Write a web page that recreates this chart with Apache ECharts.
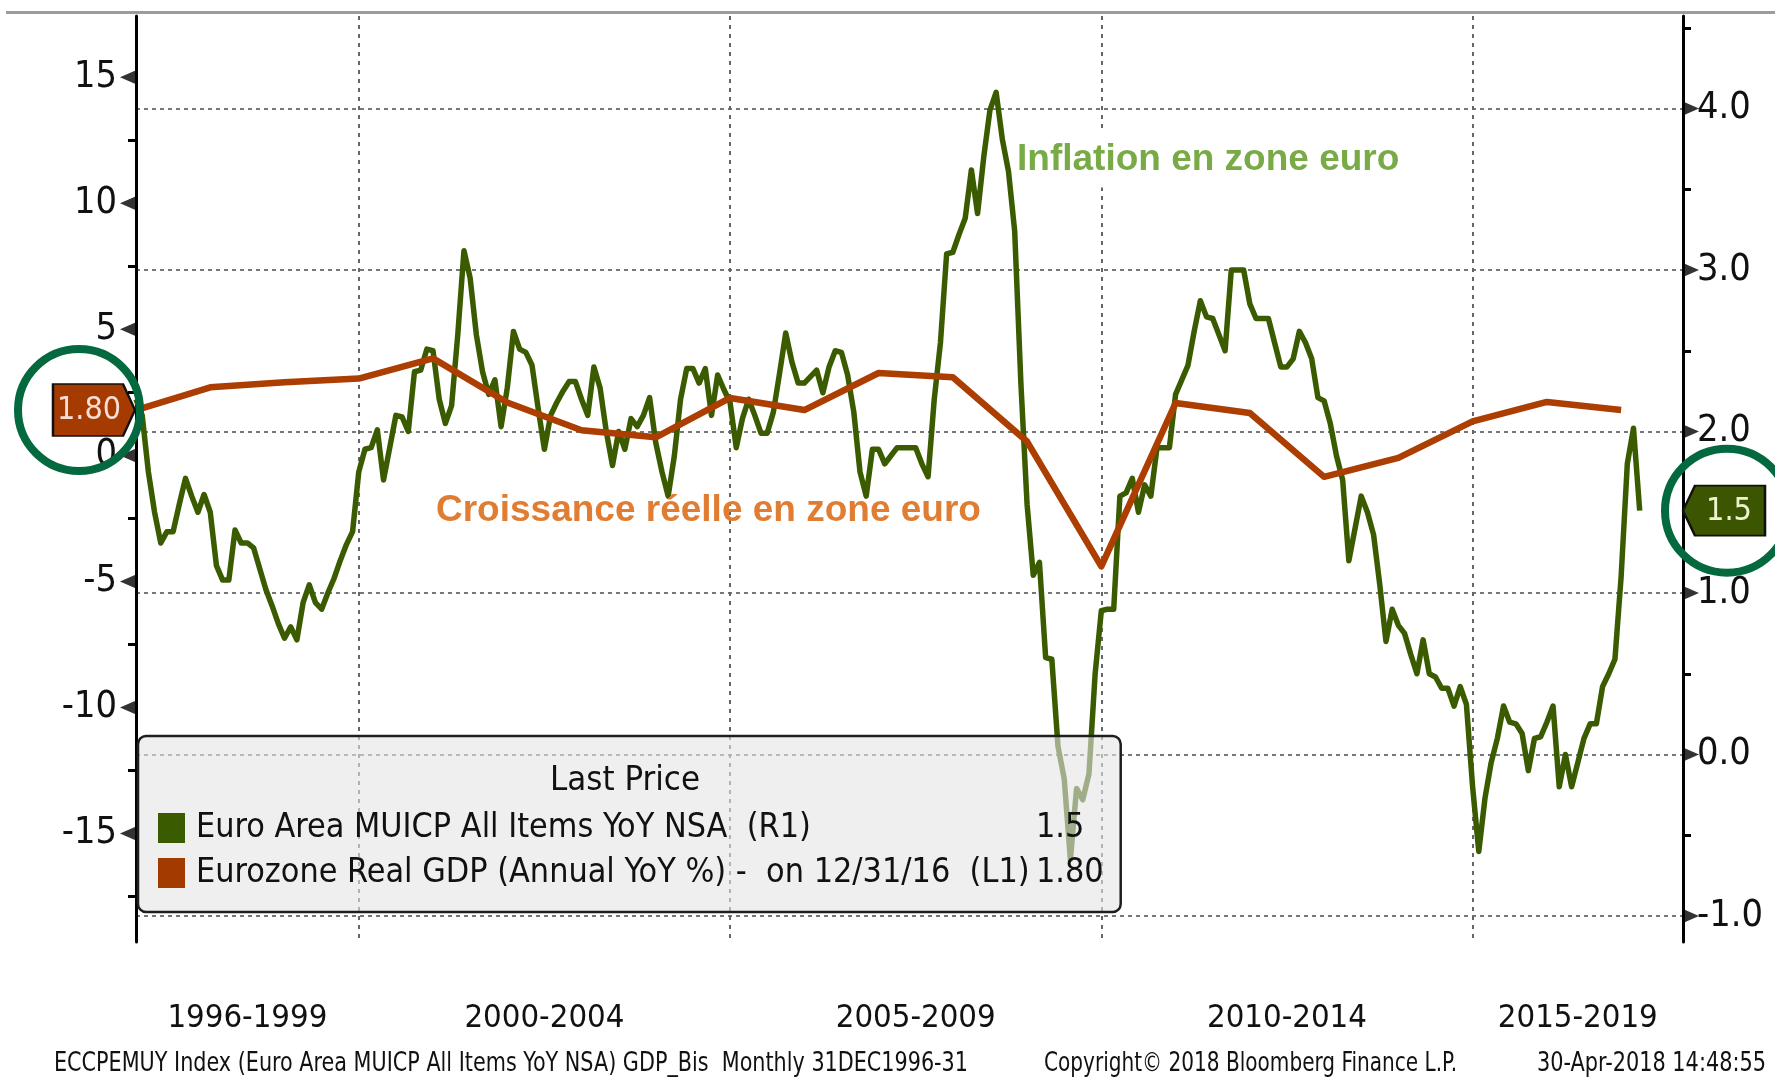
<!DOCTYPE html>
<html>
<head>
<meta charset="utf-8">
<script src="https://cdn.jsdelivr.net/npm/echarts@6/dist/echarts.min.js"></script>
<style>
html,body{margin:0;padding:0;background:#fff;}
#chart{width:1775px;height:1078px;}
</style>
</head>
<body>
<div id="chart"></div>
<script>
// ---- Data ----
// Euro Area MUICP All Items YoY NSA, monthly, Dec 1996 .. Mar 2017 (right axis)
const inflation = [
  2.2,
  2.1, 1.75, 1.5, 1.31, 1.38, 1.38, 1.55, 1.71, 1.6, 1.5, 1.61, 1.5,
  1.17, 1.08, 1.08, 1.39, 1.31, 1.31, 1.28, 1.15, 1.02, 0.92, 0.81, 0.72,
  0.79, 0.71, 0.94, 1.05, 0.94, 0.9, 1.0, 1.09, 1.2, 1.3, 1.38, 1.75,
  1.89, 1.9, 2.01, 1.7, 1.9, 2.1, 2.09, 2.0, 2.37, 2.38, 2.51, 2.5,
  2.2, 2.05, 2.16, 2.6, 3.12, 2.95, 2.6, 2.37, 2.23, 2.32, 2.03, 2.27,
  2.62, 2.51, 2.49, 2.41, 2.14, 1.89, 2.1, 2.18, 2.25, 2.31, 2.31, 2.2,
  2.1, 2.4, 2.27, 2.0, 1.79, 2.0, 1.89, 2.08, 2.03, 2.1, 2.21, 1.93,
  1.75, 1.6, 1.85, 2.2, 2.39, 2.39, 2.3, 2.39, 2.1, 2.35, 2.26, 2.18,
  1.9, 2.08, 2.2, 2.1, 1.99, 1.99, 2.12, 2.36, 2.61, 2.43, 2.3, 2.3,
  2.34, 2.38, 2.24, 2.4, 2.5, 2.49, 2.35, 2.12, 1.75, 1.6, 1.89, 1.89,
  1.8, 1.85, 1.9, 1.9, 1.9, 1.9, 1.8, 1.72, 2.2, 2.55, 3.1, 3.11,
  3.22, 3.32, 3.62, 3.35, 3.7, 3.99, 4.1, 3.81, 3.61, 3.24, 2.3, 1.55,
  1.11, 1.19, 0.6, 0.59, 0.05, -0.15, -0.65, -0.21, -0.28, -0.12, 0.5, 0.89,
  0.9, 0.9, 1.6, 1.62, 1.71, 1.5, 1.67, 1.6, 1.9, 1.9, 1.9, 2.23,
  2.32, 2.41, 2.62, 2.81, 2.71, 2.7, 2.6, 2.5, 3.0, 3.0, 3.0, 2.79,
  2.7, 2.7, 2.7, 2.55, 2.4, 2.4, 2.45, 2.62, 2.55, 2.45, 2.21, 2.19,
  2.05, 1.85, 1.7, 1.2, 1.4, 1.6, 1.5, 1.36, 1.05, 0.7, 0.9, 0.8,
  0.75, 0.62, 0.5, 0.71, 0.5, 0.48, 0.41, 0.41, 0.3, 0.42, 0.31, -0.2,
  -0.6, -0.27, -0.05, 0.1, 0.3, 0.2, 0.19, 0.13, -0.1, 0.1, 0.11, 0.2,
  0.3, -0.2, 0.0, -0.2, -0.05, 0.1, 0.19, 0.19, 0.42, 0.5, 0.59, 1.1,
  1.8, 2.02, 1.51
];
// Eurozone Real GDP (Annual YoY %), one value per year-end, 1996 .. 2016 (left axis)
const gdpAnnual = [1.8, 2.7, 2.9, 3.05, 3.85, 2.1, 1.0, 0.72, 2.28, 1.8, 3.27, 3.1, 0.55, -4.4, 2.08, 1.68, -0.85, -0.1, 1.35, 2.12, 1.8];

const periodLabels = ['1996-1999', '2000-2004', '2005-2009', '2010-2014', '2015-2019'];
const periodCenters = [18, 66, 126, 186, 233];     // months since Dec 1996
const periodBounds = [36, 96, 156, 216];           // Dec 1999, Dec 2004, Dec 2009, Dec 2014
const leftTicks = [-15, -10, -5, 0, 5, 10, 15];
const leftMinorTicks = [12.5, 7.5, 2.5, -2.5, -7.5, -12.5, -17.5];
const rightTicks = [-1, 0, 1, 2, 3, 4];
const rightMinorTicks = [4.5, 3.5, 2.5, 1.5, 0.5, -0.5];
const seriesNames = ['Euro Area MUICP All Items YoY NSA  (R1)', 'Eurozone Real GDP (Annual YoY %) -  on 12/31/16  (L1)'];
const footerTexts = ['ECCPEMUY Index (Euro Area MUICP All Items YoY NSA) GDP_Bis  Monthly 31DEC1996-31', 'Copyright\u00A9 2018 Bloomberg Finance L.P.', '30-Apr-2018 14:48:55'];

// ---- Font helpers (pick a narrow face that is installed, fit text widths) ----
const ctx = document.createElement('canvas').getContext('2d');
function hasFont(name) {
  const t = 'mmmmmmmmmmlli1996-1999WQ';
  let ok = false;
  ['monospace', 'serif'].forEach(g => {
    ctx.font = '72px ' + g; const a = ctx.measureText(t).width;
    ctx.font = "72px '" + name + "', " + g; const b = ctx.measureText(t).width;
    if (a !== b) ok = true;
  });
  return ok;
}
const narrowCandidates = ['Liberation Sans Narrow', 'Arial Narrow', 'Noto Sans Condensed', 'Noto Sans SemiCondensed', 'DejaVu Sans Condensed', 'Liberation Sans'];
const NARROW_FACE = narrowCandidates.find(hasFont) || 'sans-serif';
const NARROW = "'" + NARROW_FACE + "', sans-serif";
function measure(text, size, family) { ctx.font = size + 'px ' + family; return ctx.measureText(text).width; }
function fit(text, nominal, target) { return Math.min(nominal, nominal * target / measure(text, nominal, NARROW)); }
function squeeze(text, size, target) { return Math.min(1, target / measure(text, size, NARROW)); }

const xLabelSize = fit('1996-1999', 40, 160);
const yLabelSize = Math.min(fit('-15', 38, 57), fit('-1.0', 38, 66));
const legendSize = fit(seriesNames[1], 38, 834);
const lastPriceSize = fit('Last Price', 38, 150);
const gdpBoxSize = fit('1.80', 40, 64);
const inflBoxSize = fit('1.5', 38, 46);
const FOOT = 27;

// ---- Chart ----
const BOLD = "'Liberation Sans',Arial,sans-serif";
const X_MIN = 0, X_MAX = 250;
const L_MIN = -19.30, L_MAX = 17.43;
const R_MIN = -1.161, R_MAX = 4.573;
const GREEN = '#3b5b00', ORANGE = '#ab3e00', RING = '#04693f';

const inflPts = inflation.map((v, i) => [i, v]);
const gdpPts = gdpAnnual.map((v, i) => [i * 12, v]);
const lastInfl = inflation[inflation.length - 1];
const lastGdp = gdpAnnual[gdpAnnual.length - 1];
const legendValues = {};
legendValues[seriesNames[0]] = lastInfl.toFixed(1);
legendValues[seriesNames[1]] = lastGdp.toFixed(2);

const chart = echarts.init(document.getElementById('chart'), null, {renderer: 'canvas'});

const yBase = (pos, min, max) => ({
  type: 'value', position: pos, min: min, max: max,
  axisLine: {show: false, onZero: false},
  axisTick: {show: false},
  axisLabel: {show: false},
  splitLine: {show: false}
});

const left = yBase('left', L_MIN, L_MAX);
left.axisLine = {show: true, onZero: false, lineStyle: {color: '#000', width: 3}};
left.axisTick = {show: false, customValues: leftTicks};
left.axisLabel = {show: true, customValues: leftTicks, margin: 19, fontSize: yLabelSize, fontFamily: NARROW, color: '#111',
  formatter: v => String(v)};

const right = yBase('right', R_MIN, R_MAX);
right.axisLine = {show: true, onZero: false, lineStyle: {color: '#000', width: 3}};
right.axisTick = {show: false, customValues: rightTicks};
right.axisLabel = {show: true, customValues: rightTicks, margin: 14, fontSize: yLabelSize, fontFamily: NARROW, color: '#111',
  formatter: v => Number(v).toFixed(1)};
right.splitLine = {show: true, lineStyle: {color: '#777', width: 2, type: [4, 4]}};

const leftMinor = yBase('left', L_MIN, L_MAX);
leftMinor.axisTick = {show: true, customValues: leftMinorTicks, length: 8, lineStyle: {color: '#000', width: 3}};
const rightMinor = yBase('right', R_MIN, R_MAX);
rightMinor.axisTick = {show: true, customValues: rightMinorTicks, length: 8, lineStyle: {color: '#000', width: 3}};

const footX = [54, 1044, 1537];
const footW = [914, 413, 229];

const option = {
  animation: false,
  backgroundColor: '#fff',
  grid: {left: 136, right: 92, top: 16, bottom: 136, containLabel: false},
  xAxis: [{
    type: 'value', min: X_MIN, max: X_MAX,
    axisLine: {show: false, onZero: false},
    axisTick: {show: false, customValues: periodBounds},
    axisLabel: {
      show: true, customValues: periodCenters, margin: 57, fontSize: xLabelSize, fontFamily: NARROW, color: '#111', lineHeight: 40,
      formatter: v => periodLabels[periodCenters.indexOf(v)]
    },
    splitLine: {show: true, lineStyle: {color: '#666', width: 2, type: [4, 5]}}
  }],
  yAxis: [left, right, leftMinor, rightMinor],
  legend: {
    orient: 'vertical', left: 138, top: 736,
    data: seriesNames,
    icon: 'rect', itemWidth: 27, itemHeight: 30, itemGap: 5,
    padding: [72, 17, 19, 20],
    backgroundColor: 'rgba(228,228,228,0.6)',
    borderColor: '#1e1e1e', borderWidth: 2.5, borderRadius: 8,
    selectedMode: false,
    textStyle: {
      fontFamily: NARROW, fontSize: legendSize, color: '#111', lineHeight: 40,
      rich: {
        n: {fontFamily: NARROW, fontSize: legendSize, color: '#111', lineHeight: 40, width: 840, padding: [0, 0, 0, 6]},
        v: {fontFamily: NARROW, fontSize: legendSize, color: '#111', lineHeight: 40}
      }
    },
    formatter: name => '{n|' + name + '}{v|' + legendValues[name] + '}'
  },
  graphic: [
    {type: 'line', z: 100, shape: {x1: 6, y1: 12.5, x2: 1775, y2: 12.5}, style: {stroke: '#9c9c9c', lineWidth: 3}},
    {type: 'text', z: 100, x: 625, y: 781, style: {text: 'Last Price', fontSize: lastPriceSize, fontFamily: NARROW, fill: '#111', textAlign: 'center', textVerticalAlign: 'middle'}},
    {type: 'text', z: 100, x: 1013, y: 160, style: {text: 'Inflation en zone euro', fontSize: 37, fontWeight: 'bold', fontFamily: BOLD, fill: '#78aa46', textAlign: 'left', textVerticalAlign: 'middle', backgroundColor: '#fff', padding: [4, 4, 14, 4]}},
    {type: 'text', z: 100, x: 436, y: 511, style: {text: 'Croissance r\u00E9elle en zone euro', fontSize: 37, fontWeight: 'bold', fontFamily: BOLD, fill: '#e07d32', textAlign: 'left', textVerticalAlign: 'middle'}}
  ].concat(footerTexts.map((t, i) => ({
    type: 'text', z: 100, x: footX[i], y: 1050, scaleX: squeeze(t, FOOT, footW[i]),
    style: {text: t, fontSize: FOOT, fontFamily: NARROW, fill: '#111', textAlign: 'left', textVerticalAlign: 'top'}
  }))),
  series: [
    {
      name: seriesNames[0], type: 'line', xAxisIndex: 0, yAxisIndex: 1,
      data: inflPts, symbol: 'none', showSymbol: false, silent: true,
      color: GREEN, itemStyle: {color: GREEN},
      lineStyle: {color: GREEN, width: 5.5, join: 'round'},
      z: 3,
      markPoint: {
        silent: true, animation: false,
        data: [
          {coord: [X_MAX, lastInfl], symbol: 'path://M0,25L12,0L82,0L82,50L12,50Z', symbolSize: [82, 50], symbolOffset: [41, 0],
            itemStyle: {color: '#3b5500', borderColor: '#111', borderWidth: 2},
            label: {show: true, position: 'inside', formatter: () => lastInfl.toFixed(1), color: '#eef3cf', fontSize: inflBoxSize, fontFamily: NARROW, offset: [5, 1]}},
          {coord: [X_MAX, lastInfl], symbol: 'circle', symbolSize: 124, symbolOffset: [44, 0],
            itemStyle: {color: 'rgba(0,0,0,0)', borderColor: RING, borderWidth: 8}, label: {show: false}}
        ]
      }
    },
    {
      name: seriesNames[1], type: 'line', xAxisIndex: 0, yAxisIndex: 0,
      data: gdpPts, symbol: 'none', showSymbol: false, silent: true,
      color: '#a33a00', itemStyle: {color: '#a33a00'},
      lineStyle: {color: ORANGE, width: 6.5, join: 'round'},
      z: 4,
      markPoint: {
        silent: true, animation: false,
        data: [
          {coord: [X_MIN, lastGdp], symbol: 'path://M0,0L70,0L82,26L70,52L0,52Z', symbolSize: [82, 52], symbolOffset: [-42, 0],
            itemStyle: {color: '#a53b00', borderColor: '#111', borderWidth: 2},
            label: {show: true, position: 'inside', formatter: () => lastGdp.toFixed(2), color: '#f7ddd3', fontSize: gdpBoxSize, fontFamily: NARROW, offset: [-5, 1]}},
          {coord: [X_MIN, lastGdp], symbol: 'circle', symbolSize: 122, symbolOffset: [-57, 0],
            itemStyle: {color: 'rgba(0,0,0,0)', borderColor: RING, borderWidth: 8}, label: {show: false}}
        ]
      }
    },
    {
      name: 'leftTickMarks', type: 'scatter', xAxisIndex: 0, yAxisIndex: 0,
      data: leftTicks.map(v => [X_MIN, v]), symbol: 'path://M0,7L16,0L16,14Z', symbolSize: [16, 14], symbolOffset: [-8, 0],
      itemStyle: {color: '#000'}, clip: false, silent: true, z: 2
    },
    {
      name: 'rightTickMarks', type: 'scatter', xAxisIndex: 0, yAxisIndex: 1,
      data: rightTicks.map(v => [X_MAX, v]), symbol: 'path://M0,0L16,7L0,14Z', symbolSize: [16, 14], symbolOffset: [8, 0],
      itemStyle: {color: '#000'}, clip: false, silent: true, z: 2
    }
  ]
};
chart.setOption(option);
</script>
</body>
</html>
